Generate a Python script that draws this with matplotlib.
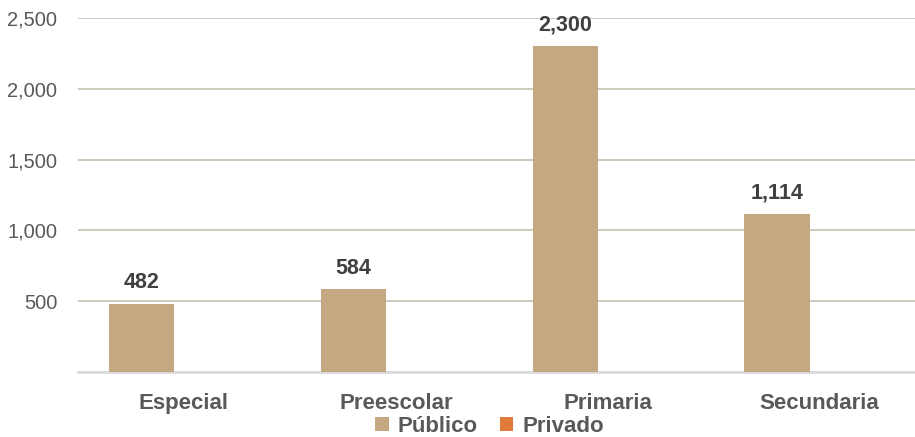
import matplotlib.pyplot as plt
import numpy as np

plt.rcParams['font.family'] = ['Liberation Sans', 'DejaVu Sans']

categorias = ['Especial', 'Preescolar', 'Primaria', 'Secundaria']
publico = [482, 584, 2300, 1114]
privado = [0, 0, 0, 0]
yticks = [500, 1000, 1500, 2000, 2500]

fig = plt.figure(figsize=(9.15, 4.37), dpi=100)
ax = fig.add_axes([78 / 915, 65 / 437, 837 / 915, 354 / 437])

x = np.arange(len(categorias))
w = 0.31
b1 = ax.bar(x - 0.2, publico, w, color='#C4A882', label='Público', zorder=3)
b2 = ax.bar(x + 0.2, privado, w, color='#E07B39', label='Privado', zorder=3)

for rect, v in zip(b1, publico):
    ax.annotate(f'{v:,}', (rect.get_x() + rect.get_width() / 2, v),
                xytext=(0, 15), textcoords='offset points',
                ha='center', va='center', fontsize=15.5, fontweight='bold',
                color='#404040')

ax.set_xlim(-0.5, 3.45)
ax.set_ylim(0, 2500)
ax.set_yticks(yticks)
ax.set_yticklabels([f'{t:,}' for t in yticks])
ax.set_xticks(x)
ax.set_xticklabels(categorias, fontsize=16, fontweight='bold', color='#595959')
ax.tick_params(axis='y', length=0, pad=15, labelsize=14.5, labelcolor='#595959')
ax.tick_params(axis='x', length=0, pad=15)
ax.grid(axis='y', color='#C8C8B8', linewidth=1.3, zorder=0)
for s in ['top', 'right', 'left']:
    ax.spines[s].set_visible(False)
ax.spines['bottom'].set_color('#D9D9D9')
ax.spines['bottom'].set_linewidth(2)

fig.legend(loc='center', bbox_to_anchor=(0.535, 0.024), ncol=2, frameon=False,
           prop={'size': 16, 'weight': 'bold'}, labelcolor='#595959',
           handlelength=0.6, handleheight=0.6, handletextpad=0.4, columnspacing=1.0,
           borderpad=0)

fig.savefig('out.png', dpi=100)
